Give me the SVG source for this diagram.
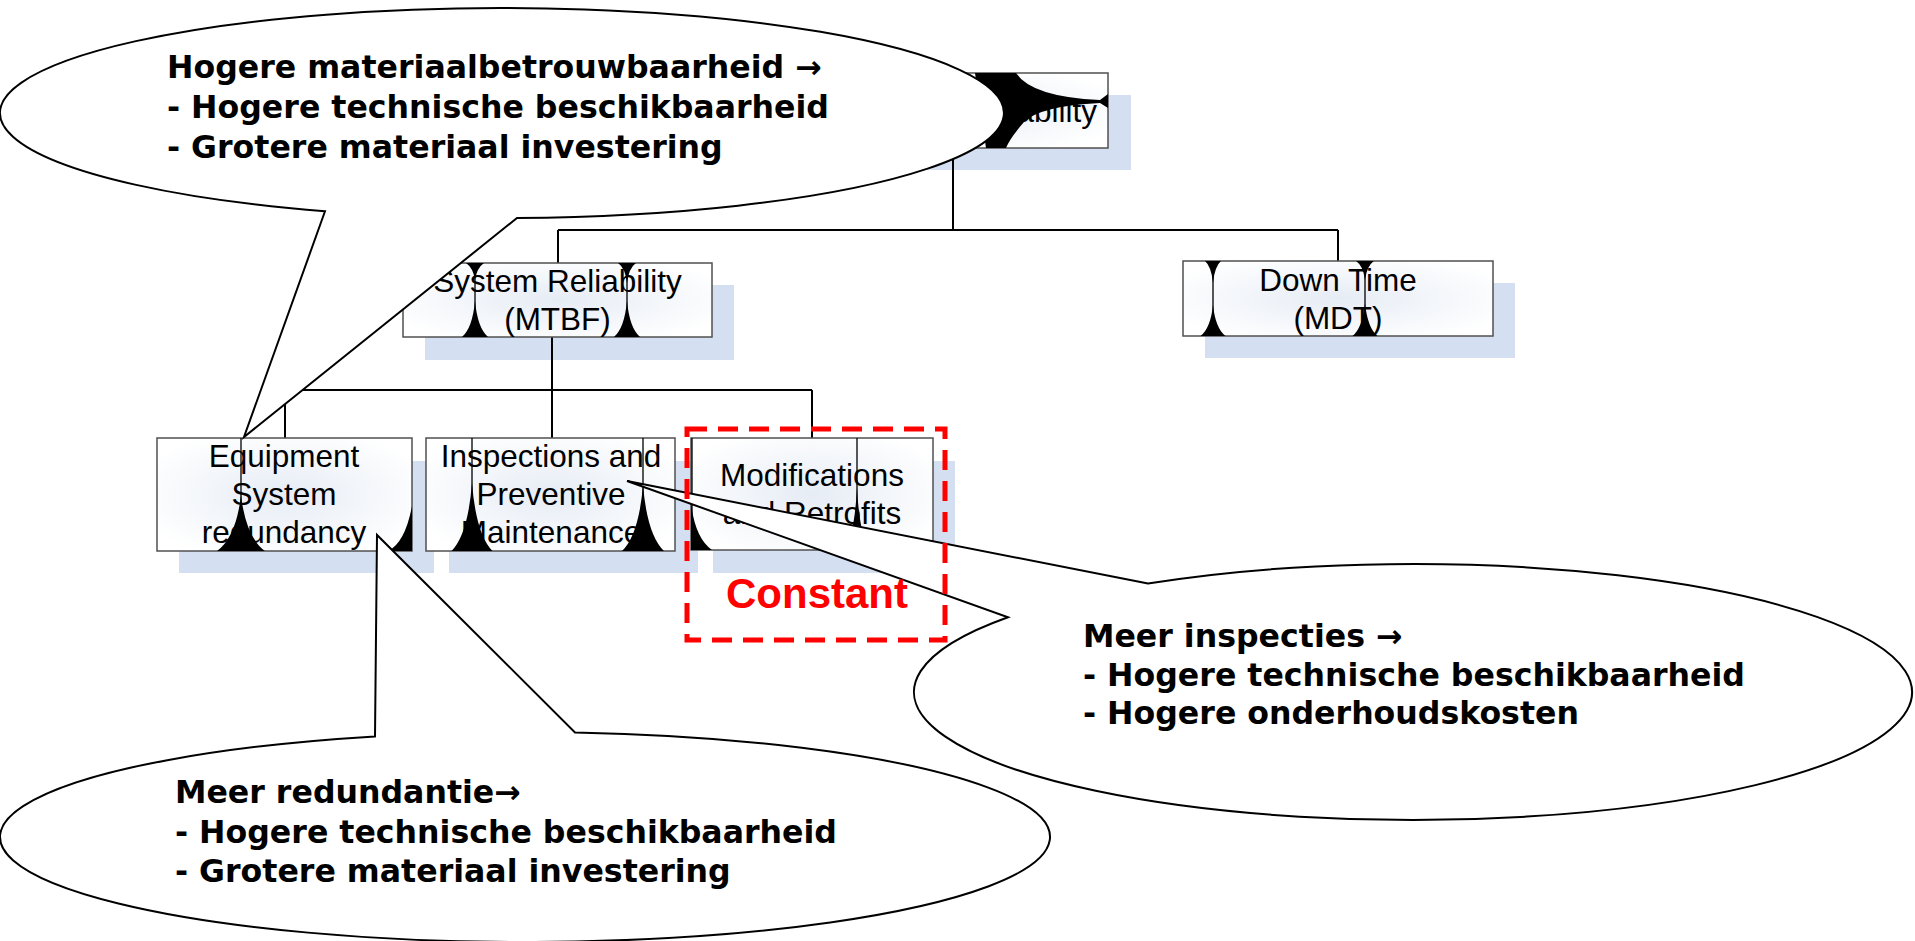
<svg xmlns="http://www.w3.org/2000/svg" width="1915" height="941" viewBox="0 0 1915 941">
<defs>
<radialGradient id="boxfill" cx="50%" cy="50%" r="60%">
<stop offset="0" stop-color="#e6ecf5"/>
<stop offset="1" stop-color="#ffffff"/>
</radialGradient>
</defs>
<style>
.shadow{fill:#d4dff1;stroke:none}
.box{fill:url(#boxfill);stroke:#505050;stroke-width:1.5}
.conn{fill:none;stroke:#000;stroke-width:2}
.al{fill:none;stroke:#000;stroke-width:1.3}
.blk{fill:#000;stroke:none}
.nt{font-family:"Liberation Sans",Arial,sans-serif;font-size:31.5px;fill:#000;text-anchor:middle}
.callout{fill:#fff;stroke:#000;stroke-width:2;stroke-linejoin:miter}
.ct{font-family:"DejaVu Sans",Verdana,sans-serif;font-weight:bold;font-size:31.6px;fill:#000}
.red{fill:none;stroke:#ff0000;stroke-width:5;stroke-dasharray:20 11}
.cst{font-family:"Liberation Sans",Arial,sans-serif;font-weight:bold;font-size:42px;fill:#ff0000;text-anchor:middle}
</style>
<rect width="1915" height="941" fill="#fff"/>
<g id="shadows">
<rect class="shadow" x="821" y="95" width="310" height="75"/>
<rect class="shadow" x="425" y="285" width="309" height="75"/>
<rect class="shadow" x="1205" y="283" width="310" height="75"/>
<rect class="shadow" x="179" y="461" width="255" height="112"/>
<rect class="shadow" x="449" y="461" width="249" height="112"/>
<rect class="shadow" x="713" y="461" width="242" height="112"/>
</g>
<g id="connectors">
<path class="conn" d="M953,148 V230 M558,230 H1338 M558,230 V263 M1338,230 V261"/>
<path class="conn" d="M552,337 V438 M285,390 H812 M285,390 V438 M812,390 V438"/>
</g>
<g id="node-top">
<rect class="box" x="798" y="73" width="310" height="75"/>
<text class="nt" style="text-anchor:end" x="1097" y="122">ability</text>
<path class="blk" d="M975,73 L1016,73 Q1032,97 1100,100 L1108,94 L1108,108 L1100,103 Q1040,106 1024,122 Q1010,138 1006,148 L986,148 Z"/>
<path class="al" d="M1000,101 H1108"/>
</g>
<g id="node-sysrel">
<rect class="box" x="403" y="263" width="309" height="74"/>
<text class="nt" x="557.5" y="292">System Reliability</text>
<text class="nt" x="557.5" y="330">(MTBF)</text>
<path class="al" d="M475,263 V337 M627,263 V337"/>
<path class="blk" d="M466,263 Q473.2,268 475,280 Q476.8,268 484,263 Z M462,337 Q472.4,328 475,301 Q477.6,328 488,337 Z M618,263 Q625.2,268 627,283 Q628.8,268 636,263 Z M614,337 Q624.4,328 627,301 Q629.6,328 640,337 Z"/>
</g>
<g id="node-downtime">
<rect class="box" x="1183" y="261" width="310" height="75"/>
<text class="nt" x="1338" y="291">Down Time</text>
<text class="nt" x="1338" y="329">(MDT)</text>
<path class="al" d="M1213,261 V336 M1365,261 V336"/>
<path class="blk" d="M1205,261 Q1211.4,266.5 1213,283 Q1214.6,266.5 1221,261 Z M1200.5,336 Q1210.5,328.3 1213,305 Q1215.5,328.3 1225.5,336 Z M1356,261 Q1363.2,265.8 1365,280 Q1366.8,265.8 1374,261 Z M1352.5,336 Q1362.5,327.8 1365,303 Q1367.5,327.8 1377.5,336 Z"/>
</g>
<g id="node-equipment">
<rect class="box" x="157" y="438" width="255" height="113"/>
<text class="nt" x="284" y="467">Equipment</text>
<text class="nt" x="284" y="505">System</text>
<text class="nt" x="284" y="543">redundancy</text>
<path class="al" d="M241,438 V551"/>
<path class="blk" d="M217,551 Q236.2,537 241,495 Q245.8,537 265,551 Z M388,551 Q405,543 412,506 L412,551 Z"/>
</g>
<g id="node-inspections">
<rect class="box" x="426" y="438" width="249" height="113"/>
<text class="nt" x="551" y="467">Inspections and</text>
<text class="nt" x="551" y="505">Preventive</text>
<text class="nt" x="551" y="543">Maintenance</text>
<path class="al" d="M472,438 V551 M643,438 V551"/>
<path class="blk" d="M451.5,551 Q467.9,534.5 472,483 Q476.1,534.5 492.5,551 Z M622,551 Q638.8,535 643,485 Q647.2,535 664,551 Z"/>
</g>
<g id="node-modifications">
<rect class="box" x="691" y="438" width="242" height="112"/>
<text class="nt" x="812" y="486">Modifications</text>
<text class="nt" x="812" y="524">and Retrofits</text>
<path class="al" d="M692,438 V550 M857,438 V550"/>
<path class="blk" d="M844.5,550 Q854.5,534.5 857,488 Q859.5,534.5 869.5,550 Z M691,503 Q695,538 712,550 L691,550 Z"/>
</g>
<g id="callout-1">
<path class="callout" d="M325,211.26 L244,437 L517,217.95 A502 105 0 1 0 325,211.26 Z"/>
<text class="ct" x="167" y="78">Hogere materiaalbetrouwbaarheid →</text>
<text class="ct" x="167" y="118">- Hogere technische beschikbaarheid</text>
<text class="ct" x="167" y="158">- Grotere materiaal investering</text>
</g>
<g id="callout-2">
<path class="callout" d="M375,736.38 L377,535 L575,732.48 A525 105 0 1 1 375,736.38 Z"/>
<text class="ct" x="175" y="803">Meer redundantie→</text>
<text class="ct" x="175" y="843">- Hogere technische beschikbaarheid</text>
<text class="ct" x="175" y="882">- Grotere materiaal investering</text>
</g>
<g id="callout-3">
<path class="callout" d="M1148,583.54 L627,481 L1008,617.22 A499 128 0 1 0 1148,583.54 Z"/>
<text class="ct" x="1083" y="647">Meer inspecties →</text>
<text class="ct" x="1083" y="685.5">- Hogere technische beschikbaarheid</text>
<text class="ct" x="1083" y="724">- Hogere onderhoudskosten</text>
</g>
<g id="constant-box">
<rect class="red" x="687" y="429" width="258" height="211"/>
<text class="cst" x="817" y="608">Constant</text>
</g>
</svg>
